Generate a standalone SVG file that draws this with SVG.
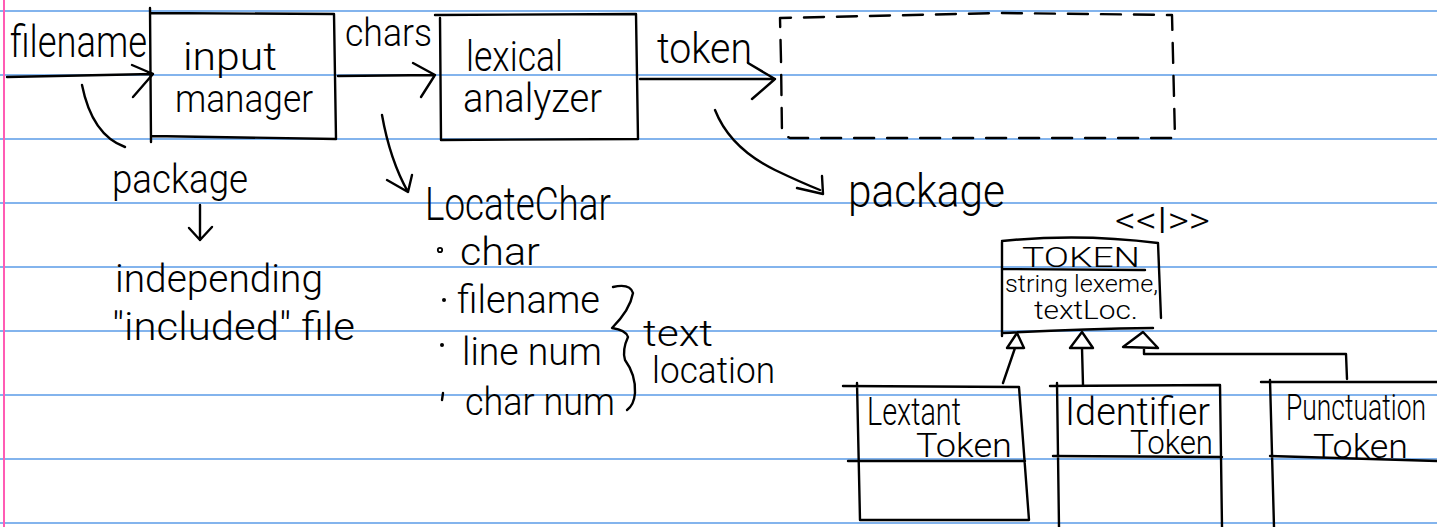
<svg xmlns="http://www.w3.org/2000/svg" width="1437" height="527" viewBox="0 0 1437 527">
<style>
.rule{stroke:#5b9ce8;stroke-width:1.6}
.margin{stroke:#ff5cb4;stroke-width:2}
.ink{fill:none;stroke:#000;stroke-width:2.4;stroke-linecap:round;stroke-linejoin:round}
.dash{stroke-dasharray:20 13}
text{font-family:Roboto,"Open Sans","Liberation Sans",sans-serif;font-weight:300;fill:#000}
</style>
<rect width="1437" height="527" fill="#fff"/>
<g id="paper">
<path class="rule" d="M0 11H1437M0 75H1437M0 139H1437M0 203H1437M0 267H1437M0 331H1437M0 395H1437M0 459H1437M0 523H1437"/>
<path class="margin" d="M4 0V527"/>
</g>
<g id="filename-label">
<text x="10" y="57" font-size="44" textLength="137" lengthAdjust="spacingAndGlyphs">filename</text>
</g>
<g id="input-manager">
<path class="ink" d="M150 8L151 142M150 13L334 14L336 139L152 136"/>
<text x="183" y="70" font-size="38" textLength="94" lengthAdjust="spacingAndGlyphs">input</text>
<text x="175" y="112" font-size="38" textLength="138" lengthAdjust="spacingAndGlyphs">manager</text>
</g>
<g id="chars-label">
<text x="345" y="46" font-size="38" textLength="87" lengthAdjust="spacingAndGlyphs">chars</text>
</g>
<g id="lexical-analyzer">
<path class="ink" d="M435 15L636 14L638 139L441 140L440 18"/>
<text x="466" y="71" font-size="42" textLength="97" lengthAdjust="spacingAndGlyphs">lexical</text>
<text x="463" y="112" font-size="40" textLength="139" lengthAdjust="spacingAndGlyphs">analyzer</text>
</g>
<g id="token-label">
<text x="657" y="63" font-size="42" textLength="95" lengthAdjust="spacingAndGlyphs">token</text>
</g>
<g id="package-box">
<path class="ink dash" d="M781 60L780 18L1000 13L1172 15L1175 138L790 138L782 134L781 60"/>
</g>
<g id="package-note-1">
<text x="112" y="193" font-size="40" textLength="136" lengthAdjust="spacingAndGlyphs">package</text>
</g>
<g id="included-note">
<text x="115" y="292" font-size="38" textLength="208" lengthAdjust="spacingAndGlyphs">independing</text>
<text x="112" y="340" font-size="38" textLength="243" lengthAdjust="spacingAndGlyphs">"included" file</text>
</g>
<g id="locatechar">
<text x="425" y="220" font-size="46" textLength="186" lengthAdjust="spacingAndGlyphs">LocateChar</text>
<circle cx="440" cy="250" r="2.2" fill="none" stroke="#000" stroke-width="1.8"/>
<circle cx="444" cy="300" r="2" fill="#000"/>
<circle cx="442" cy="345" r="2" fill="#000"/>
<path class="ink" d="M443 393L442 400"/>
<text x="460" y="265" font-size="38" textLength="80" lengthAdjust="spacingAndGlyphs">char</text>
<text x="457" y="313" font-size="38" textLength="143" lengthAdjust="spacingAndGlyphs">filename</text>
<text x="462" y="365" font-size="38" textLength="140" lengthAdjust="spacingAndGlyphs">line num</text>
<text x="465" y="415" font-size="38" textLength="150" lengthAdjust="spacingAndGlyphs">char num</text>
<path class="ink" d="M613 287Q630 283 633 293Q630 310 612 328Q626 330 628 337Q622 350 625 360Q636 375 635 393Q634 405 627 410"/>
<text x="643" y="346" font-size="36" textLength="70" lengthAdjust="spacingAndGlyphs">text</text>
<text x="652" y="383" font-size="36" textLength="123" lengthAdjust="spacingAndGlyphs">location</text>
</g>
<g id="package-label-2">
<text x="848" y="207" font-size="46" textLength="157" lengthAdjust="spacingAndGlyphs">package</text>
</g>
<g id="token-interface">
<text x="1115" y="233" font-size="36" textLength="95" lengthAdjust="spacingAndGlyphs">&lt;&lt;I&gt;&gt;</text>
<path class="ink" d="M1002 242L1002 336M1002 241Q1080 233 1158 243L1161 318M1002 269L1145 270M1002 333Q1080 329 1153 328"/>
<text x="1022" y="267" font-size="28" textLength="118" lengthAdjust="spacingAndGlyphs">TOKEN</text>
<text x="1005" y="292" font-size="24" textLength="153" lengthAdjust="spacingAndGlyphs">string lexeme,</text>
<text x="1034" y="319" font-size="25" textLength="104" lengthAdjust="spacingAndGlyphs">textLoc.</text>
</g>
<g id="lextant-token">
<path class="ink" d="M843 386L1019 387L1029 520L860 520L857 383M848 461L1025 461"/>
<text x="867" y="425" font-size="38" textLength="94" lengthAdjust="spacingAndGlyphs">Lextant</text>
<text x="916" y="457" font-size="33" textLength="96" lengthAdjust="spacingAndGlyphs">Token</text>
</g>
<g id="identifier-token">
<path class="ink" d="M1050 386L1220 385L1222 527M1057 383L1059 527M1053 456L1222 457"/>
<text x="1065" y="425" font-size="38" textLength="145" lengthAdjust="spacingAndGlyphs">Identifier</text>
<text x="1130" y="454" font-size="33" textLength="83" lengthAdjust="spacingAndGlyphs">Token</text>
</g>
<g id="punctuation-token">
<path class="ink" d="M1261 382L1437 382M1270 380L1274 527M1270 456L1437 461"/>
<text x="1286" y="420" font-size="37" textLength="140" lengthAdjust="spacingAndGlyphs">Punctuation</text>
<text x="1313" y="458" font-size="33" textLength="95" lengthAdjust="spacingAndGlyphs">Token</text>
</g>
<g id="connectors">
<path class="ink" d="M7 77L153 74M132 65L153 74L133 97"/>
<path class="ink" d="M338 76L435 75M413 63L435 75L421 97"/>
<path class="ink" d="M640 79L775 79M748 63L775 79L752 99"/>
<path class="ink" d="M82 85Q92 135 125 147"/>
<path class="ink" d="M200 205L200 240M189 228L200 240L212 227"/>
<path class="ink" d="M382 115Q390 160 408 192M387 180L408 192L412 175"/>
<path class="ink" d="M715 110Q730 148 775 170Q800 182 820 190M797 188L823 194L822 176"/>
<path class="ink" d="M1003 383L1015 348M1007 348L1017 333L1024 348Z"/>
<path class="ink" d="M1083 385L1082 348M1070 348L1082 332L1093 348Z"/>
<path class="ink" d="M1347 379L1346 354L1144 354L1144 348M1123 347L1143 332L1158 348Z"/>
</g>
</svg>
